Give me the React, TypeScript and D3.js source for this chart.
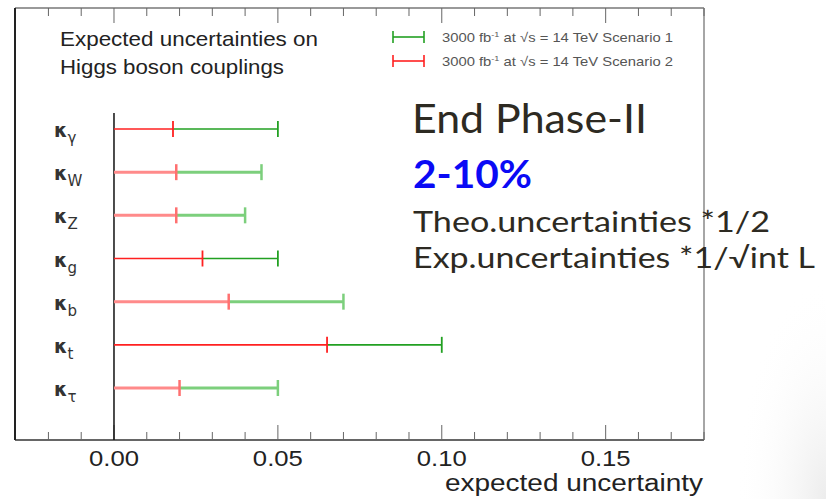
import React from 'react';
import * as d3 from 'd3';

// couplings, top to bottom
const couplings = ['γ', 'W', 'Z', 'g', 'b', 't', 'τ'];
// scenario 2 (red) and scenario 1 (green) expected uncertainties
const scenario2 = [0.018, 0.019, 0.019, 0.027, 0.035, 0.065, 0.020];
const scenario1 = [0.050, 0.045, 0.040, 0.050, 0.070, 0.100, 0.050];
// rows drawn paler/thicker in the picture
const faded = [false, true, true, false, true, false, true];
const majorTicks = [0, 0.05, 0.1, 0.15];

const W = 826;
const H = 499;
const frame = { left: 15, right: 704, top: 8, bottom: 440 };

export default function App() {
  const x = d3.scaleLinear().domain([-0.0302, 0.18]).range([frame.left, frame.right]);
  const y = d3.scalePoint<string>().domain(couplings).range([129, 388]);
  const minor = d3.range(-0.02, 0.1801, 0.01).map(v => Math.round(v * 100) / 100);

  const sans = 'Liberation Sans, Arial, sans-serif';
  const greek = 'DejaVu Sans, sans-serif';
  const slide = 'Lato, Open Sans, sans-serif';
  const ink = '#2d2a22';

  return (
    <svg width={W} height={H} style={{ position: 'absolute', left: 0, top: 0, background: '#fff' }}>
      <defs>
        <radialGradient id="edge" cx="100%" cy="100%" r="100%">
          <stop offset="0%" stopColor="#e4e4e4" stopOpacity={1} />
          <stop offset="100%" stopColor="#ffffff" stopOpacity={0} />
        </radialGradient>
      </defs>
      <rect x={736} y={280} width={90} height={219} fill="url(#edge)" opacity={0.7} />

      {/* frame */}
      <line x1={frame.left} x2={frame.right} y1={frame.top} y2={frame.top} stroke="#777" strokeWidth={1.5} />
      <line x1={frame.right} x2={frame.right} y1={frame.top} y2={frame.bottom} stroke="#888" strokeWidth={1.5} />
      <line x1={frame.left} x2={frame.right} y1={frame.bottom} y2={frame.bottom} stroke="#666" strokeWidth={2} />
      <line x1={frame.left} x2={frame.left} y1={frame.top} y2={frame.bottom} stroke="#222" strokeWidth={2} />

      {/* ticks */}
      {minor.map(v => {
        const major = majorTicks.some(m => Math.abs(m - v) < 1e-6);
        const len = major ? 15 : 8;
        return (
          <g key={v} stroke="#666" strokeWidth={1}>
            <line x1={x(v)} x2={x(v)} y1={frame.top} y2={frame.top + len} />
            <line x1={x(v)} x2={x(v)} y1={frame.bottom} y2={frame.bottom - len} />
          </g>
        );
      })}
      {majorTicks.map(v => (
        <text key={v} x={x(v)} y={466} textAnchor="middle" fontFamily={sans} fontSize={22}
          textLength={50} lengthAdjust="spacingAndGlyphs" fill="#222">
          {d3.format('.2f')(v)}
        </text>
      ))}
      <text x={445} y={491} fontFamily={sans} fontSize={23} textLength={258}
        lengthAdjust="spacingAndGlyphs" fill="#222">
        expected uncertainty
      </text>

      {/* zero line */}
      <line x1={x(0)} x2={x(0)} y1={113} y2={frame.bottom} stroke="#111" strokeWidth={1.5} />

      {/* error bars */}
      {couplings.map((c, i) => {
        const yy = y(c)!;
        const sw = faded[i] ? 3 : 1.6;
        const red = faded[i] ? '#ff8a8a' : '#ff2020';
        const green = faded[i] ? '#7ccf7c' : '#22a022';
        const redCap = faded[i] ? '#ff7070' : '#ff2020';
        return (
          <g key={c}>
            <line x1={x(0)} x2={x(scenario2[i])} y1={yy} y2={yy} stroke={red} strokeWidth={sw} />
            <line x1={x(scenario2[i])} x2={x(scenario1[i])} y1={yy} y2={yy} stroke={green} strokeWidth={sw} />
            <line x1={x(scenario1[i])} x2={x(scenario1[i])} y1={yy - 8} y2={yy + 8} stroke={green} strokeWidth={faded[i] ? 2.5 : 1.8} />
            <line x1={x(scenario2[i])} x2={x(scenario2[i])} y1={yy - 8} y2={yy + 8} stroke={redCap} strokeWidth={faded[i] ? 2.5 : 1.8} />
            <text x={54} y={yy + 8} fontFamily={greek} fontWeight="bold" fontSize={19} fill="#333">
              κ
              <tspan dy={6} fontSize={15} fontWeight="normal">{c}</tspan>
            </text>
          </g>
        );
      })}

      {/* legend */}
      <text x={60} y={46} fontFamily={sans} fontSize={21} textLength={258} lengthAdjust="spacingAndGlyphs" fill="#222">
        Expected uncertainties on
      </text>
      <text x={60} y={74} fontFamily={sans} fontSize={21} textLength={224} lengthAdjust="spacingAndGlyphs" fill="#222">
        Higgs boson couplings
      </text>
      {[
        { color: '#22a022', tail: ' = 14 TeV Scenario 1', yy: 37 },
        { color: '#ff2020', tail: ' = 14 TeV Scenario 2', yy: 61 },
      ].map(d => (
        <g key={d.tail}>
          <line x1={393} x2={424} y1={d.yy} y2={d.yy} stroke={d.color} strokeWidth={1.6} />
          <line x1={393} x2={393} y1={d.yy - 6} y2={d.yy + 6} stroke={d.color} strokeWidth={1.6} />
          <line x1={424} x2={424} y1={d.yy - 6} y2={d.yy + 6} stroke={d.color} strokeWidth={1.6} />
          <text x={442} y={d.yy + 5} fontFamily={sans} fontSize={13} fill="#555" textLength={231} lengthAdjust="spacingAndGlyphs">
            3000 fb
            <tspan dy={-5} fontSize={8}>-1</tspan>
            <tspan dy={5}> at </tspan>
            <tspan>√s</tspan>
            {d.tail}
          </text>
        </g>
      ))}

      {/* slide overlay text */}
      <text x={412} y={133} fontFamily={slide} fontSize={41} fill={ink} textLength={235} lengthAdjust="spacingAndGlyphs">
        End Phase-II
      </text>
      <text x={413} y={188} fontFamily={slide} fontSize={38} fontWeight="bold" fill="#0a0af5" textLength={119} lengthAdjust="spacingAndGlyphs">
        2-10%
      </text>
      <text x={413} y={232} fontFamily={slide} fontSize={28} fill={ink} textLength={357} lengthAdjust="spacingAndGlyphs">
        Theo.uncertainties *1/2
      </text>
      <text x={413} y={268} fontFamily={slide} fontSize={28} fill={ink} textLength={402} lengthAdjust="spacingAndGlyphs">
        Exp.uncertainties *1/√int L
      </text>
    </svg>
  );
}
